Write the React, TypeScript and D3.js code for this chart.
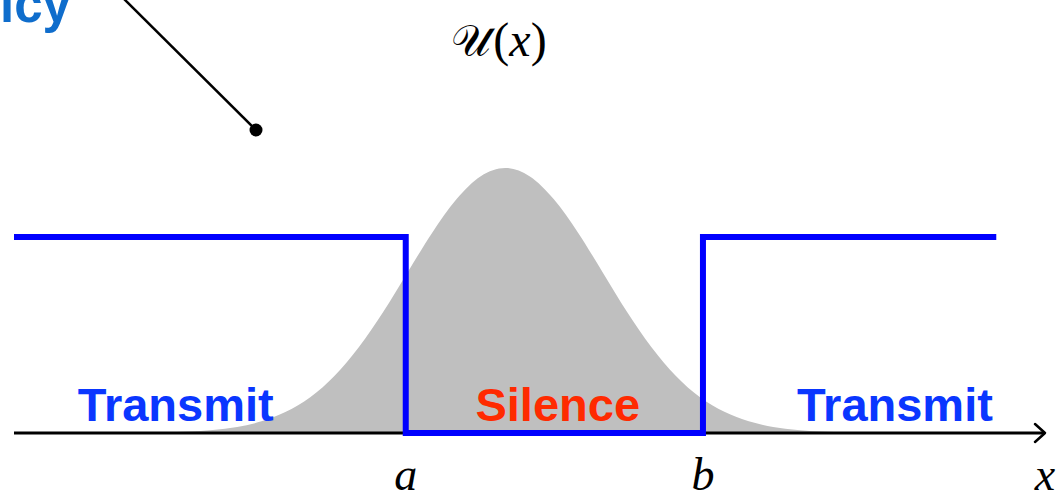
import React from "react";
import * as d3 from "d3";

// Bell curve U(x) (relative height, peak = 1)
const curveX = [-4, -3.5, -3, -2.75, -2.5, -2.25, -2, -1.75, -1.5, -1.25, -1, -0.75, -0.5, -0.25, 0, 0.25, 0.5, 0.75, 1, 1.25, 1.5, 1.75, 2, 2.25, 2.5, 2.75, 3, 3.5, 4];
const curveY = [0.0003, 0.0022, 0.011, 0.023, 0.044, 0.08, 0.135, 0.216, 0.325, 0.458, 0.607, 0.755, 0.882, 0.969, 1, 0.969, 0.882, 0.755, 0.607, 0.458, 0.325, 0.216, 0.135, 0.08, 0.044, 0.023, 0.011, 0.0022, 0.0003];

// Policy step: transmit / silence thresholds
const stepX = [-5.04, -1.02, -1.02, 2.03, 2.03, 5.04];
const stepY = [0.74, 0.74, 0, 0, 0.74, 0.74];

const thresholdLabels = [
  { name: "a", x: -1.02 },
  { name: "b", x: 2.03 },
];
const regionLabels = [
  { text: "Transmit", x: -3.38, color: "#0a36ff" },
  { text: "Silence", x: 0.54, color: "#ff2a00" },
  { text: "Transmit", x: 4.0, color: "#0a36ff" },
];

const W = 1058;
const H = 497;

export default function App() {
  const x = d3.scaleLinear().domain([-5.04, 5.54]).range([14, 1045]);
  const y = d3.scaleLinear().domain([0, 1]).range([433, 168]);

  const area = d3
    .area<number>()
    .x((_, i) => x(curveX[i]))
    .y0(y(0))
    .y1((d) => y(d))
    .curve(d3.curveMonotoneX);

  const step = d3
    .line<number>()
    .x((_, i) => x(stepX[i]))
    .y((d) => y(d));

  const axisEnd = x(5.54);
  const base = y(0);
  const mathFont = "Liberation Serif, DejaVu Serif, serif";

  return (
    <svg
      width={W}
      height={H}
      style={{ position: "absolute", left: 0, top: 0 }}
      viewBox={`0 0 ${W} ${H}`}
    >
      <rect width={W} height={H} fill="#fff" />
      {/* Policy label cut off at top */}
      <text
        x={71}
        y={22}
        textAnchor="end"
        fontFamily="Liberation Sans, Arial, sans-serif"
        fontWeight="bold"
        fontSize={51}
        fill="#0f6dcc"
      >
        Policy
      </text>
      <line x1={116} y1={-9} x2={256} y2={130} stroke="#000" strokeWidth={2.5} />
      <circle cx={256} cy={130} r={6.5} fill="#000" />

      {/* title */}
      <text
        x={499}
        y={56}
        textAnchor="middle"
        fontFamily={mathFont}
        fontSize={48}
        fill="#000"
      >
        <tspan fontFamily="DejaVu Serif, serif" fontSize={44}>𝒰</tspan>
        <tspan dx={2}>(</tspan>
        <tspan fontStyle="italic">x</tspan>
        <tspan>)</tspan>
      </text>

      {/* bell */}
      <path d={area(curveY) || ""} fill="#bfbfbf" />

      {/* axis */}
      <line x1={14} y1={base} x2={axisEnd} y2={base} stroke="#000" strokeWidth={3} />
      <path
        d={`M${axisEnd - 10},${base - 9} L${axisEnd},${base} L${axisEnd - 10},${base + 9}`}
        fill="none"
        stroke="#000"
        strokeWidth={2.5}
        strokeLinecap="round"
        strokeLinejoin="round"
      />

      {/* policy step */}
      <path
        d={step(stepY) || ""}
        fill="none"
        stroke="#0000ff"
        strokeWidth={6}
        strokeLinejoin="miter"
      />

      {/* region labels */}
      {regionLabels.map((r, i) => (
        <text
          key={i}
          x={x(r.x)}
          y={421}
          textAnchor="middle"
          fontFamily="Liberation Sans, Arial, sans-serif"
          fontWeight="bold"
          fontSize={47}
          fill={r.color}
        >
          {r.text}
        </text>
      ))}

      {/* threshold labels */}
      {thresholdLabels.map((t) => (
        <text
          key={t.name}
          x={x(t.x)}
          y={490}
          textAnchor="middle"
          fontFamily={mathFont}
          fontStyle="italic"
          fontSize={46}
          fill="#000"
        >
          {t.name}
        </text>
      ))}
      <text
        x={axisEnd}
        y={490}
        textAnchor="middle"
        fontFamily={mathFont}
        fontStyle="italic"
        fontSize={46}
        fill="#000"
      >
        x
      </text>
    </svg>
  );
}
